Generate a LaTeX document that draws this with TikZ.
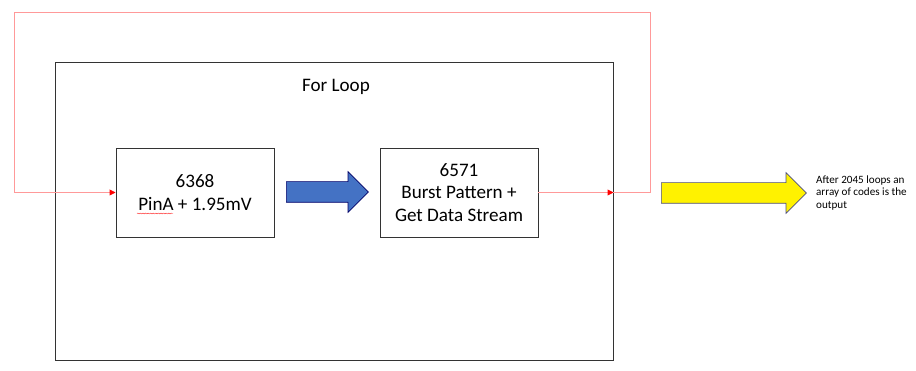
\documentclass[tikz,border=0pt]{standalone}
\usepackage{fontspec}
\setmainfont{Carlito}
\usetikzlibrary{arrows.meta,positioning,shapes.arrows,decorations.pathmorphing}

\begin{document}
\begin{tikzpicture}[x=0.03cm, y=-0.03cm,
        loopframe/.style={rectangle, draw=black!80, line width=0.8pt,
            minimum width=16.74cm, minimum height=8.94cm},
        chip/.style={rectangle, draw=black!80, line width=0.8pt, minimum width=4.74cm,
            minimum height=2.67cm, align=center, font=\fontsize{16.3}{19}\selectfont},
        fatarrow/.style={single arrow, draw=#1, line width=0.6pt, inner xsep=0pt,
            inner ysep=0.3cm, minimum width=1.2cm, single arrow head extend=0.3cm,
            anchor=tail},
        feedback/.style={draw=red!40, line width=0.7pt},
        feedtip/.style={-{Triangle[red, fill=red, length=5pt, width=5pt]}},
    ]
        \useasboundingbox (0,0) rectangle (916,371);

        % Loop frame and title
        \node[loopframe] (loop) at (334,211) {};
        \node[font=\fontsize{16.3}{19}\selectfont] (title) at (336,87) {For Loop};

        % Instruments
        \node[chip] (pin) at (195,192.5) {6368\\PinA + 1.95mV};
        \node[chip] (burst) at (459,192.5) {6571\\Burst Pattern +\\Get Data Stream};
        \draw[red!80, decorate, decoration={snake, amplitude=0.35pt, segment length=2.2pt}]
            (137,213.5) -- (173,213.5);

        % Block arrows
        \node[fatarrow=blue!40!black, fill={rgb,255:red,68;green,114;blue,196},
            minimum height=2.46cm] (step) at (286,192) {};
        \node[fatarrow=blue!30!black!70, fill=yellow,
            minimum height=4.35cm] (done) at (661,193) {};
        \node[anchor=west, align=left, font=\fontsize{9.5}{11}\selectfont] (result)
            at (812,193) {After 2045 loops an\\array of codes is the\\output};

        % Feedback path
        \coordinate (out) at (burst.east -| loop.east);
        \coordinate (topright) at (650,12);
        \coordinate (topleft) at (14,12);
        \draw[feedback, feedtip] (burst.east) -- (out);
        \draw[feedback, feedtip] (out) -| (topright) -| (topleft |- pin.west) -- (pin.west);
    \end{tikzpicture}
\end{document}
